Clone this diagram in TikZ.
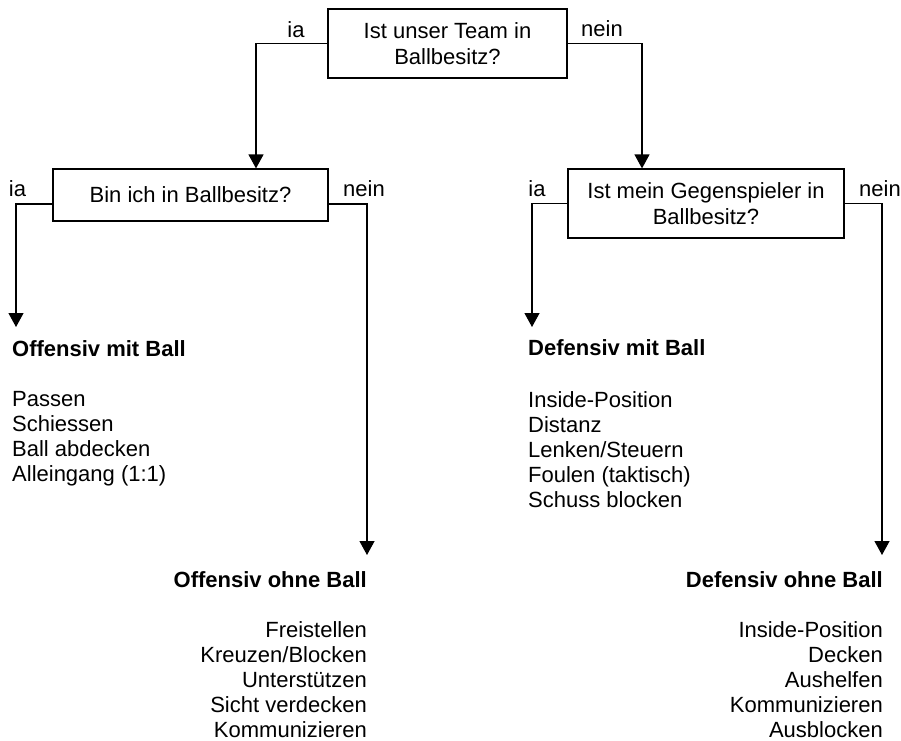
\documentclass[tikz,border=0pt]{standalone}
\usepackage{fontspec}
\setmainfont{Liberation Sans}
\usetikzlibrary{arrows.meta}
\begin{document}
\begin{tikzpicture}[x=1pt,y=-1pt,
  qbox/.style={draw, line width=1.2pt, inner sep=0pt, align=center, font=\fontsize{22}{26}\selectfont},
  lbl/.style={inner sep=0pt, font=\fontsize{22}{26}\selectfont},
  ttl/.style={inner sep=0pt, font=\fontsize{22}{26}\selectfont\bfseries},
  lst/.style={inner sep=0pt, font=\fontsize{22}{25}\selectfont},
  conn/.style={line width=1.2pt, -{Triangle[width=15pt,length=14pt]}}]
\useasboundingbox[fill=white] (0,0) rectangle (901,740);

\node[qbox, minimum width=239pt, minimum height=69pt] (q1) at (447.5,43.5) {Ist unser Team in\\Ballbesitz?};
\node[qbox, minimum width=275pt, minimum height=52pt] (q2) at (190.5,195) {Bin ich in Ballbesitz?};
\node[qbox, minimum width=276pt, minimum height=69pt] (q3) at (706,203.5) {Ist mein Gegenspieler in\\Ballbesitz?};

\node[lbl] (l1) at (296,30) {ia};
\node[lbl] (l2) at (602,29) {nein};
\node[lbl] (l3) at (17.5,189) {ia};
\node[lbl] (l4) at (364,189) {nein};
\node[lbl] (l5) at (537,189) {ia};
\node[lbl] (l6) at (880,189) {nein};

\node[ttl, anchor=base west] (t1) at (12,356) {Offensiv mit Ball};
\node[lst, anchor=north west, align=left] (b1) at (12,391) {Passen\\Schiessen\\Ball abdecken\\Alleingang (1:1)};
\node[ttl, anchor=base west] (t2) at (528,355) {Defensiv mit Ball};
\node[lst, anchor=north west, align=left] (b2) at (528,391) {Inside-Position\\Distanz\\Lenken/Steuern\\Foulen (taktisch)\\Schuss blocken};
\node[ttl, anchor=base east] (t3) at (367,587) {Offensiv ohne Ball};
\node[lst, anchor=north east, align=right] (b3) at (367,621) {Freistellen\\Kreuzen/Blocken\\Unterstützen\\Sicht verdecken\\Kommunizieren};
\node[ttl, anchor=base east] (t4) at (883,587) {Defensiv ohne Ball};
\node[lst, anchor=north east, align=right] (b4) at (883,621) {Inside-Position\\Decken\\Aushelfen\\Kommunizieren\\Ausblocken};

\coordinate (a1) at (16,327);
\coordinate (a2) at (367,555);
\coordinate (a3) at (532,327);
\coordinate (a4) at (882,555);

\draw[conn] (q1.west) -| ([xshift=65.5pt]q2.north);
\draw[conn] (q1.east) -| ([xshift=-64pt]q3.north);
\draw[conn] ([yshift=-9pt]q2.west) -| (a1);
\draw[conn] ([yshift=-9pt]q2.east) -| (a2);
\draw[conn] (q3.west) -| (a3);
\draw[conn] (q3.east) -| (a4);
\end{tikzpicture}
\end{document}
